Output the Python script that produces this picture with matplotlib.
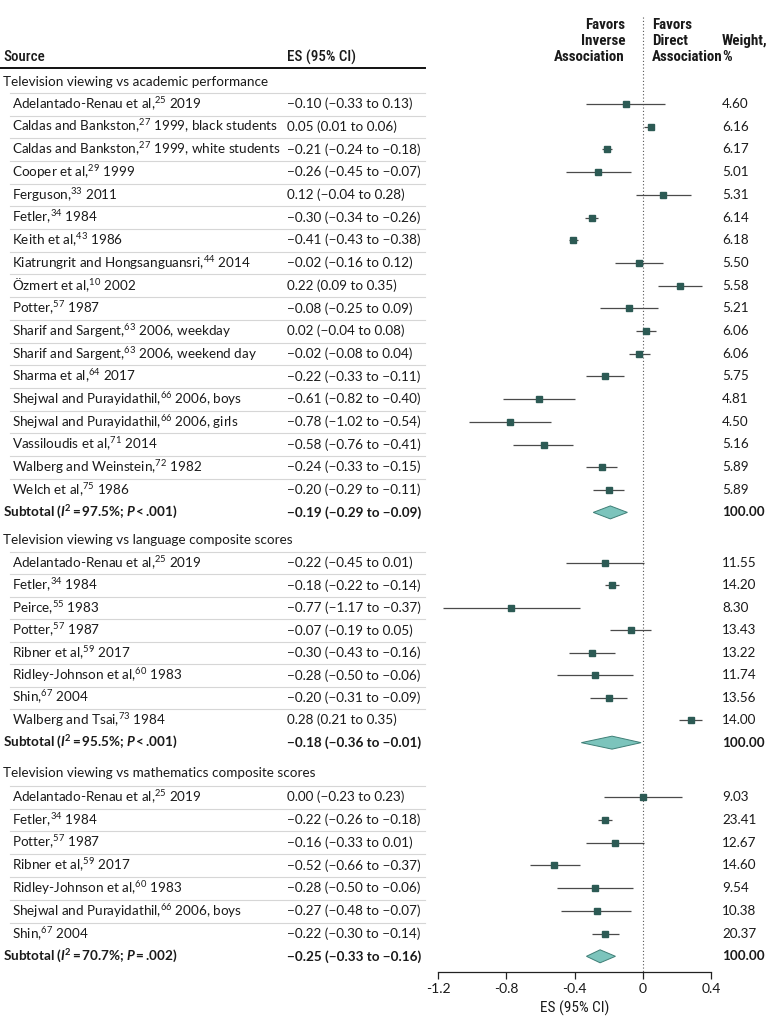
import matplotlib
matplotlib.use("Agg")
import matplotlib.pyplot as plt
from matplotlib.patches import Polygon
from matplotlib import font_manager

plt.rcParams['font.family'] = ['Lato', 'DejaVu Sans']
plt.rcParams['mathtext.fontset'] = 'custom'
plt.rcParams['mathtext.rm'] = 'Lato'
plt.rcParams['mathtext.it'] = 'Lato:italic'
plt.rcParams['mathtext.bf'] = 'Lato:bold'
plt.rcParams['mathtext.bfit'] = 'Lato:italic:bold'
plt.rcParams['axes.unicode_minus'] = False

_installed = {f.name for f in font_manager.fontManager.ttflist}
def pick(cands):
    for c in cands:
        if c in _installed:
            return [c, 'Lato', 'DejaVu Sans']
    return ['Lato', 'DejaVu Sans']
NARROW = pick(['Roboto Condensed', 'PT Sans Narrow', 'Archivo Narrow', 'Fira Sans Condensed',
               'Open Sans Condensed', 'Liberation Sans Narrow'])

# ---------------- data ----------------
group_titles = [
    "Television viewing vs academic performance",
    "Television viewing vs language composite scores",
    "Television viewing vs mathematics composite scores",
]

g1_names = [
    "Adelantado-Renau et al,$^{25}$ 2019",
    "Caldas and Bankston,$^{27}$ 1999, black students",
    "Caldas and Bankston,$^{27}$ 1999, white students",
    "Cooper et al,$^{29}$ 1999",
    "Ferguson,$^{33}$ 2011",
    "Fetler,$^{34}$ 1984",
    "Keith et al,$^{43}$ 1986",
    "Kiatrungrit and Hongsanguansri,$^{44}$ 2014",
    "Özmert et al,$^{10}$ 2002",
    "Potter,$^{57}$ 1987",
    "Sharif and Sargent,$^{63}$ 2006, weekday",
    "Sharif and Sargent,$^{63}$ 2006, weekend day",
    "Sharma et al,$^{64}$ 2017",
    "Shejwal and Purayidathil,$^{66}$ 2006, boys",
    "Shejwal and Purayidathil,$^{66}$ 2006, girls",
    "Vassiloudis et al,$^{71}$ 2014",
    "Walberg and Weinstein,$^{72}$ 1982",
    "Welch et al,$^{75}$ 1986",
]
g1_es = [-0.10, 0.05, -0.21, -0.26, 0.12, -0.30, -0.41, -0.02, 0.22, -0.08, 0.02, -0.02, -0.22, -0.61, -0.78, -0.58, -0.24, -0.20]
g1_lo = [-0.33, 0.01, -0.24, -0.45, -0.04, -0.34, -0.43, -0.16, 0.09, -0.25, -0.04, -0.08, -0.33, -0.82, -1.02, -0.76, -0.33, -0.29]
g1_hi = [0.13, 0.06, -0.18, -0.07, 0.28, -0.26, -0.38, 0.12, 0.35, 0.09, 0.08, 0.04, -0.11, -0.40, -0.54, -0.41, -0.15, -0.11]
g1_w = [4.60, 6.16, 6.17, 5.01, 5.31, 6.14, 6.18, 5.50, 5.58, 5.21, 6.06, 6.06, 5.75, 4.81, 4.50, 5.16, 5.89, 5.89]

g2_names = [
    "Adelantado-Renau et al,$^{25}$ 2019",
    "Fetler,$^{34}$ 1984",
    "Peirce,$^{55}$ 1983",
    "Potter,$^{57}$ 1987",
    "Ribner et al,$^{59}$ 2017",
    "Ridley-Johnson et al,$^{60}$ 1983",
    "Shin,$^{67}$ 2004",
    "Walberg and Tsai,$^{73}$ 1984",
]
g2_es = [-0.22, -0.18, -0.77, -0.07, -0.30, -0.28, -0.20, 0.28]
g2_lo = [-0.45, -0.22, -1.17, -0.19, -0.43, -0.50, -0.31, 0.21]
g2_hi = [0.01, -0.14, -0.37, 0.05, -0.16, -0.06, -0.09, 0.35]
g2_w = [11.55, 14.20, 8.30, 13.43, 13.22, 11.74, 13.56, 14.00]

g3_names = [
    "Adelantado-Renau et al,$^{25}$ 2019",
    "Fetler,$^{34}$ 1984",
    "Potter,$^{57}$ 1987",
    "Ribner et al,$^{59}$ 2017",
    "Ridley-Johnson et al,$^{60}$ 1983",
    "Shejwal and Purayidathil,$^{66}$ 2006, boys",
    "Shin,$^{67}$ 2004",
]
g3_es = [0.00, -0.22, -0.16, -0.52, -0.28, -0.27, -0.22]
g3_lo = [-0.23, -0.26, -0.33, -0.66, -0.50, -0.48, -0.30]
g3_hi = [0.23, -0.18, 0.01, -0.37, -0.06, -0.07, -0.14]
g3_w = [9.03, 23.41, 12.67, 14.60, 9.54, 10.38, 20.37]

sub_labels = [
    "Subtotal ($\\mathbfit{I}^{\\mathbf{2}}$\u2009=\u200997.5%; $\\mathbfit{P}$\u2009<\u2009.001)",
    "Subtotal ($\\mathbfit{I}^{\\mathbf{2}}$\u2009=\u200995.5%; $\\mathbfit{P}$\u2009<\u2009.001)",
    "Subtotal ($\\mathbfit{I}^{\\mathbf{2}}$\u2009=\u200970.7%; $\\mathbfit{P}$\u2009=\u2009.002)",
]
sub_es = [-0.19, -0.18, -0.25]
sub_lo = [-0.29, -0.36, -0.33]
sub_hi = [-0.09, -0.01, -0.16]

xticks = [-1.2, -0.8, -0.4, 0, 0.4]
xticklabels = ["-1.2", "-0.8", "-0.4", "0", "0.4"]

groups = [
    (g1_names, g1_es, g1_lo, g1_hi, g1_w),
    (g2_names, g2_es, g2_lo, g2_hi, g2_w),
    (g3_names, g3_es, g3_lo, g3_hi, g3_w),
]

# ---------------- layout (pixel coordinates) ----------------
W, H = 780, 1027
heading_y = [82, 540, 773]
first_y = [104, 563, 797]
pitch = [22.7, 22.45, 22.8]

SQ = '#2c5a54'
LN = '#4a4a4a'
DIA_FC = '#7cc4bc'
DIA_EC = '#3f7f77'
TXT = '#1a1a1a'
FS = 9.7

def fmt(v):
    return f"{v:.2f}".replace('-', '\u2212')

def es_text(e, l, h):
    return f"{fmt(e)} ({fmt(l)} to {fmt(h)})"

fig = plt.figure(figsize=(W / 100, H / 100), dpi=100)
tx = fig.add_axes([0, 0, 1, 1])
tx.set_xlim(0, W)
tx.set_ylim(H, 0)
tx.axis('off')

axis_y = 972
ax = fig.add_axes([438 / W, (H - axis_y) / H, (711 - 438) / W, axis_y / H])
ax.set_xlim(-1.2, 0.4)
ax.set_ylim(axis_y, 0)
ax.patch.set_alpha(0)
for s in ['left', 'right', 'top']:
    ax.spines[s].set_visible(False)
ax.spines['bottom'].set_linewidth(0.9)
ax.spines['bottom'].set_color('#222222')
ax.set_yticks([])
ax.set_xticks(xticks)
ax.set_xticklabels(xticklabels, fontsize=10, color=TXT)
ax.tick_params(axis='x', length=5, width=0.9, color='#222222', pad=3)
ax.set_xlabel("ES (95% CI)", fontsize=11, color=TXT, labelpad=4, family=NARROW)

# dotted null line
ax.plot([0, 0], [17, axis_y], color='#555555', lw=0.8, ls=(0, (1, 2)), zorder=1)

# header
hfs = 10.8
tx.text(3, 57, "Source", fontsize=hfs, color=TXT, va='center', family=NARROW, fontweight='medium')
tx.text(287, 57, "ES (95% CI)", fontsize=hfs, color=TXT, va='center', family=NARROW, fontweight='medium')
tx.plot([0, 425], [68, 68], color='#111111', lw=1.4)
for yy, t in zip([25, 41, 57], ["Favors", "Inverse", "Association"]):
    tx.text(625, yy, t, fontsize=hfs, color=TXT, va='center', ha='right', fontweight='semibold', family=NARROW)
for yy, t in zip([25, 41, 57], ["Favors", "Direct", "Association"]):
    tx.text(652, yy, t, fontsize=hfs, color=TXT, va='center', ha='left', fontweight='semibold', family=NARROW)
tx.text(722, 41, "Weight,", fontsize=hfs, color=TXT, va='center', fontweight='semibold', family=NARROW)
tx.text(722, 57, "%", fontsize=hfs, color=TXT, va='center', fontweight='semibold', family=NARROW)

for gi, (names, es, lo, hi, w) in enumerate(groups):
    tx.text(3, heading_y[gi], group_titles[gi], fontsize=FS, color=TXT, va='center')
    ys = [first_y[gi] + i * pitch[gi] for i in range(len(names))]
    wmax = max(w)
    for i, y in enumerate(ys):
        tx.plot([10, 425], [y - 11.2, y - 11.2], color='#d6d6d6', lw=0.8)
        tx.text(12, y, names[i], fontsize=FS, color=TXT, va='center')
        tx.text(287, y, es_text(es[i], lo[i], hi[i]), fontsize=FS, color=TXT, va='center')
        tx.text(722, y, f"{w[i]:.2f}", fontsize=FS, color=TXT, va='center')
        ax.plot([lo[i], hi[i]], [y, y], color=LN, lw=0.9, zorder=2, solid_capstyle='butt')
        ax.plot([es[i]], [y], marker='s', ms=3.4 + 1.0 * w[i] / wmax, color=SQ, mec=SQ, zorder=3)
    sy = ys[-1] + 22.5
    tx.text(3, sy, sub_labels[gi], fontsize=FS, color=TXT, va='center', fontweight='bold')
    tx.text(287, sy, es_text(sub_es[gi], sub_lo[gi], sub_hi[gi]), fontsize=FS, color=TXT,
            va='center', fontweight='bold')
    tx.text(722, sy, "100.00", fontsize=FS, color=TXT, va='center', fontweight='bold')
    dh = 6.5
    poly = Polygon([(sub_lo[gi], sy), (sub_es[gi], sy - dh), (sub_hi[gi], sy), (sub_es[gi], sy + dh)],
                   closed=True, facecolor=DIA_FC, edgecolor=DIA_EC, lw=0.7, zorder=3)
    ax.add_patch(poly)

fig.savefig("out.png", dpi=100)
